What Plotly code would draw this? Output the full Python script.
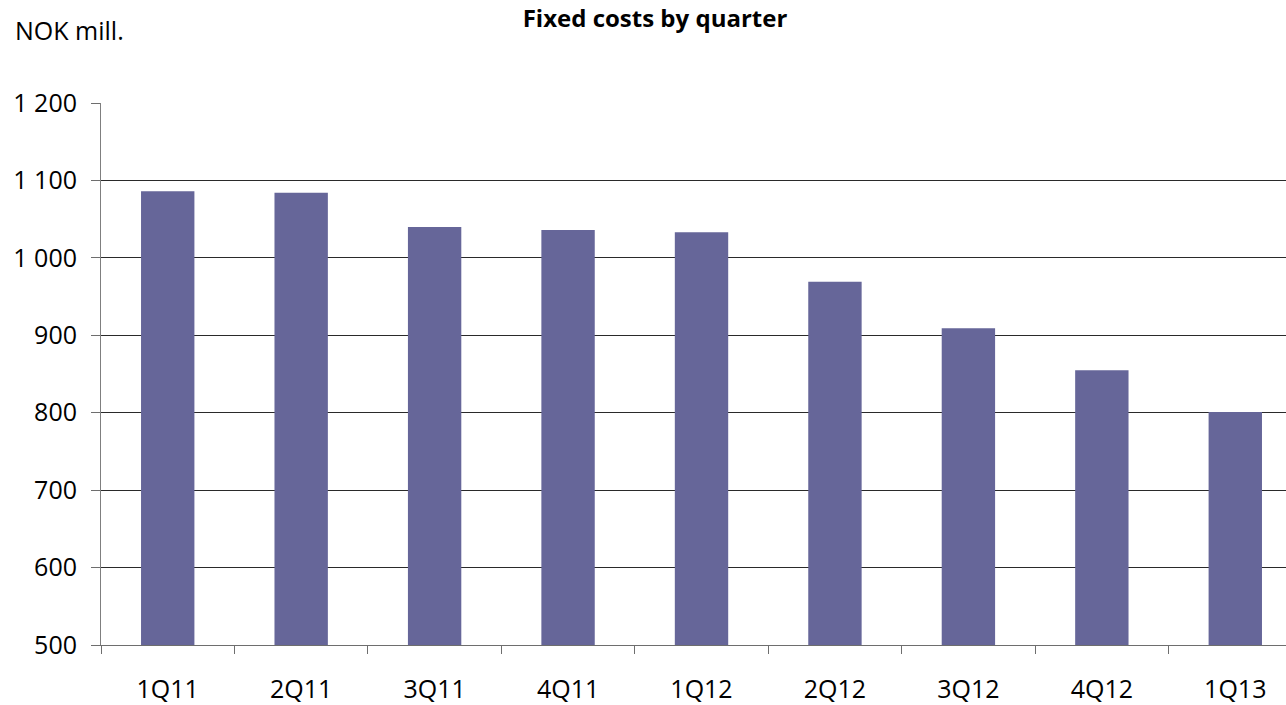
import plotly.graph_objects as go

# Quarterly fixed costs, NOK million
quarters = ["1Q11", "2Q11", "3Q11", "4Q11", "1Q12", "2Q12", "3Q12", "4Q12", "1Q13"]
fixed_costs = [1086, 1084, 1040, 1036, 1033, 969, 909, 855, 801]
y_ticks = [500, 600, 700, 800, 900, 1000, 1100, 1200]

W, H = 1286, 705
FONT = "Open Sans"

fig = go.Figure(
    go.Bar(
        x=quarters,
        y=fixed_costs,
        width=0.4,
        marker=dict(color="#666699", line=dict(width=0)),
        hoverinfo="x+y",
    )
)

fig.update_layout(
    width=W,
    height=H,
    margin=dict(l=101, r=0, t=103, b=60),
    paper_bgcolor="white",
    plot_bgcolor="white",
    separators=". ",
    showlegend=False,
    font=dict(family=FONT, size=25, color="#000000"),
    title=dict(
        text="<b>Fixed costs by quarter</b>",
        font=dict(family=FONT, size=24, color="#000000"),
        xref="container",
        x=655 / W,
        xanchor="center",
        yref="container",
        y=1 - 19 / H,
        yanchor="middle",
    ),
    annotations=[
        dict(
            text="NOK mill.",
            xref="paper",
            yref="paper",
            x=(13 - 101) / (W - 101),
            y=1 + (103 - 30) / 542,
            xanchor="left",
            yanchor="middle",
            showarrow=False,
            font=dict(family=FONT, size=25, color="#000000"),
        )
    ],
)

fig.update_xaxes(
    type="category",
    range=[-0.5, 8.38],
    tickson="boundaries",
    ticks="outside",
    ticklen=8,
    tickcolor="#6e6e6e",
    tickwidth=1,
    showline=True,
    linecolor="#6e6e6e",
    linewidth=1,
    showgrid=False,
    ticklabelstandoff=22,
    tickfont=dict(family=FONT, size=25, color="#000000"),
    fixedrange=True,
)

fig.update_yaxes(
    range=[500, 1200],
    tickvals=y_ticks,
    tickformat=",d",
    ticks="outside",
    ticklen=9,
    tickcolor="#6e6e6e",
    tickwidth=1,
    showline=True,
    linecolor="#7f7f7f",
    linewidth=1,
    showgrid=True,
    gridcolor="#2a2a2a",
    gridwidth=1,
    zeroline=False,
    ticklabelstandoff=9,
    tickfont=dict(family=FONT, size=25, color="#000000"),
    fixedrange=True,
)

fig.write_html("out.html")
